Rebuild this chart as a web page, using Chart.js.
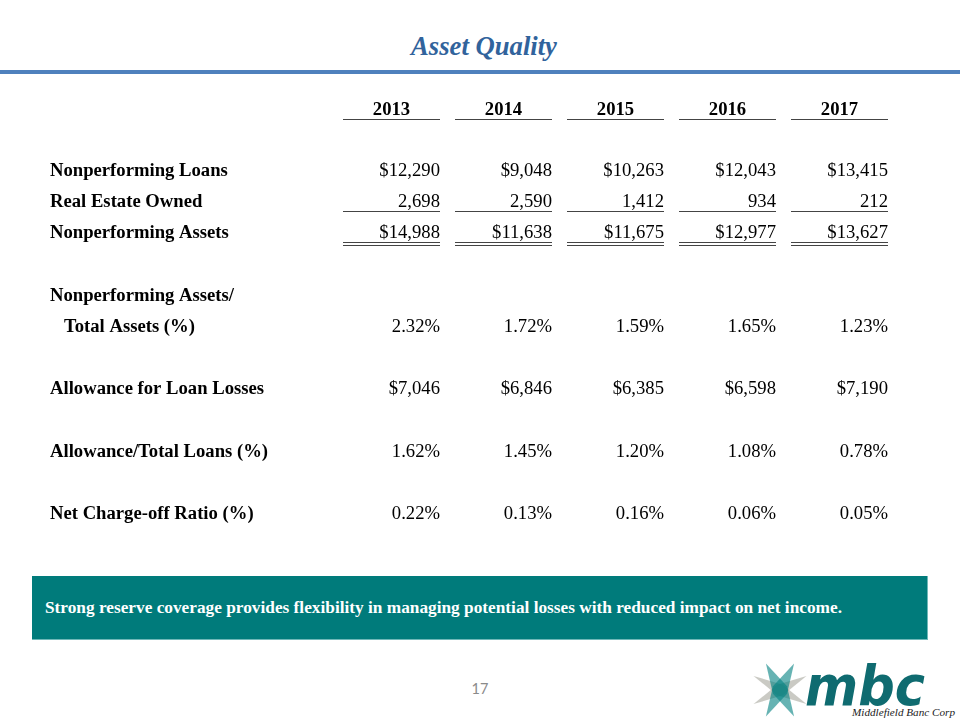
<!DOCTYPE html>
<html>
<head>
<meta charset="utf-8">
<title>Asset Quality</title>
<script src="https://cdn.jsdelivr.net/npm/chart.js@4.4.1/dist/chart.umd.min.js"></script>
<style>
    body { margin: 0; width: 960px; height: 720px; position: relative; background: #fff; overflow: hidden; font-family: "Liberation Serif", "Times New Roman", serif; }
    #title { position: absolute; left: 0; top: 33px; width: 968px; text-align: center; font-size: 26.67px; line-height: 26.67px; font-weight: bold; font-style: italic; color: #31639c; }
    #rule { position: absolute; left: 0; top: 70px; width: 960px; height: 4px; background: #4f81bd; }
    #tbl { position: absolute; left: 0; top: 0; }
    #note { position: absolute; left: 32px; top: 576px; width: 895px; height: 63px; background: #007b7b; border: 1px solid #6fb8b8; border-top: none; border-left: none; }
    #note span { position: absolute; left: 13px; top: 23px; font-size: 17.3px; line-height: 17.3px; font-weight: bold; color: #fff; white-space: nowrap; }
    #page { position: absolute; left: 460px; width: 40px; top: 681px; text-align: center; font-family: Lato, "Open Sans", sans-serif; font-size: 14.5px; line-height: 16px; color: #8a8a8a; }
    #logo { position: absolute; left: 745px; top: 640px; }
</style>
</head>
<body>
<div id="title">Asset Quality</div>
<div id="rule"></div>
<canvas id="tbl" width="960" height="560"></canvas>
<div id="note"><span>Strong reserve coverage provides flexibility in managing potential losses with reduced impact on net income.</span></div>
<div id="page">17</div>
<svg id="logo" width="215" height="80" viewBox="0 0 215 80">
    <g transform="translate(35,50)">
        <polygon points="-30,0 0,-6 30,0 0,6" fill="rgba(150,150,138,0.5)" transform="rotate(28)"/>
        <polygon points="-30,0 0,-6 30,0 0,6" fill="rgba(150,150,138,0.5)" transform="rotate(-28)"/>
        <polygon points="-30,0 0,-8 30,0 0,8" fill="rgba(0,128,128,0.6)" transform="rotate(62)"/>
        <polygon points="-30,0 0,-8 30,0 0,8" fill="rgba(0,128,128,0.6)" transform="rotate(-62)"/>
    </g>
    <text x="60" y="65" font-family="DejaVu Sans" font-weight="bold" font-style="italic" font-size="56" fill="#0f6b70" textLength="120" lengthAdjust="spacingAndGlyphs">mbc</text>
    <text x="107" y="76" font-family="Liberation Serif" font-style="italic" font-size="11" fill="#222" textLength="103" lengthAdjust="spacingAndGlyphs">Middlefield Banc Corp</text>
</svg>

<script>
document.addEventListener('DOMContentLoaded', function() {

    // --- Table data (values in $000s) ---
    const years = ['2013', '2014', '2015', '2016', '2017'];
    const nonperformingLoans = [12290, 9048, 10263, 12043, 13415];
    const realEstateOwned = [2698, 2590, 1412, 934, 212];
    const nonperformingAssets = [14988, 11638, 11675, 12977, 13627];
    const npaToTotalAssets = [2.32, 1.72, 1.59, 1.65, 1.23];
    const allowanceForLosses = [7046, 6846, 6385, 6598, 7190];
    const allowanceToLoans = [1.62, 1.45, 1.20, 1.08, 0.78];
    const netChargeOffRatio = [0.22, 0.13, 0.16, 0.06, 0.05];

    // Row keys (unique, used by the category y scale) and the text shown for them
    const rowKeys = ['hdr', 'gap1', 'npl', 'reo', 'npa', 'gap2', 'npaRatioTop', 'npaRatio', 'gap3', 'allow', 'gap4', 'allowRatio', 'gap5', 'nco'];
    const rowLabels = ['', '', 'Nonperforming Loans', 'Real Estate Owned', 'Nonperforming Assets', '', 'Nonperforming Assets/', '   Total Assets (%)', '', 'Allowance for Loan Losses', '', 'Allowance/Total Loans (%)', '', 'Net Charge-off Ratio (%)'];

    const fmtDollar = v => '$' + v.toLocaleString('en-US');
    const fmtPlain = v => v.toLocaleString('en-US');
    const fmtPct = v => v.toFixed(2) + '%';

    const tableRows = [
        { key: 'npl', values: nonperformingLoans, fmt: fmtDollar },
        { key: 'reo', values: realEstateOwned, fmt: fmtPlain, rule: 1 },
        { key: 'npa', values: nonperformingAssets, fmt: fmtDollar, rule: 2 },
        { key: 'npaRatio', values: npaToTotalAssets, fmt: fmtPct },
        { key: 'allow', values: allowanceForLosses, fmt: fmtDollar },
        { key: 'allowRatio', values: allowanceToLoans, fmt: fmtPct },
        { key: 'nco', values: netChargeOffRatio, fmt: fmtPct }
    ];

    const FONT = '"Liberation Serif", "Times New Roman", serif';
    const FONT_SIZE = 18.67;
    const HALF_CELL = 48.5;   // half width of a column's underline

    // Draws the header, the cell text and the underlines at the scale positions
    const cellText = {
        id: 'cellText',
        afterDatasetsDraw(chart) {
            const ctx = chart.ctx;
            const x = chart.scales.x;
            const y = chart.scales.y;
            ctx.save();
            ctx.fillStyle = '#000';
            ctx.strokeStyle = '#444';
            ctx.lineWidth = 1;

            // header row
            const hy = y.getPixelForValue(rowKeys.indexOf('hdr'));
            ctx.font = 'bold ' + FONT_SIZE + 'px ' + FONT;
            ctx.textAlign = 'center';
            ctx.textBaseline = 'alphabetic';
            years.forEach((yr, i) => {
                const cx = x.getPixelForValue(i);
                ctx.fillText(yr, cx, hy + 7.4);
                ctx.beginPath();
                ctx.moveTo(cx - HALF_CELL, Math.round(hy + 11.5) + 0.5);
                ctx.lineTo(cx + HALF_CELL, Math.round(hy + 11.5) + 0.5);
                ctx.stroke();
            });

            // body rows
            ctx.font = FONT_SIZE + 'px ' + FONT;
            ctx.textAlign = 'right';
            chart.data.datasets.forEach((ds, d) => {
                const row = tableRows[d];
                chart.getDatasetMeta(d).data.forEach((pt, i) => {
                    ctx.fillText(row.fmt(ds.data[i].v), pt.x + HALF_CELL, pt.y + 6);
                    if (row.rule) {
                        const ly = Math.round(pt.y + 10) + 0.5;
                        ctx.beginPath();
                        ctx.moveTo(pt.x - HALF_CELL, ly);
                        ctx.lineTo(pt.x + HALF_CELL, ly);
                        if (row.rule === 2) {
                            ctx.moveTo(pt.x - HALF_CELL, ly + 3);
                            ctx.lineTo(pt.x + HALF_CELL, ly + 3);
                        }
                        ctx.stroke();
                    }
                });
            });
            ctx.restore();
        }
    };

    new Chart(document.getElementById('tbl').getContext('2d'), {
        type: 'line',
        data: {
            labels: years,
            datasets: tableRows.map(row => ({
                label: row.key,
                data: row.values.map((v, i) => ({ x: years[i], y: row.key, v: v })),
                showLine: false,
                pointRadius: 0,
                pointHoverRadius: 0
            }))
        },
        options: {
            responsive: false,
            devicePixelRatio: 1,
            animation: false,
            events: [],
            layout: { padding: { left: 50, right: 64.5, top: 92, bottom: 31.2 } },
            plugins: {
                legend: { display: false },
                tooltip: { enabled: false },
                title: { display: false }
            },
            scales: {
                x: {
                    type: 'category',
                    display: false,
                    offset: true
                },
                y: {
                    type: 'category',
                    labels: rowKeys,
                    offset: true,
                    grid: { display: false },
                    border: { display: false },
                    afterFit(scale) { scale.width = 285.5; },
                    ticks: {
                        autoSkip: false,
                        padding: 0,
                        labelOffset: 1,
                        crossAlign: 'far',
                        color: '#000',
                        font: { family: FONT, size: FONT_SIZE, weight: 'bold' },
                        callback: (val, i) => rowLabels[i]
                    }
                }
            }
        },
        plugins: [cellText]
    });
});
</script>
</body>
</html>
